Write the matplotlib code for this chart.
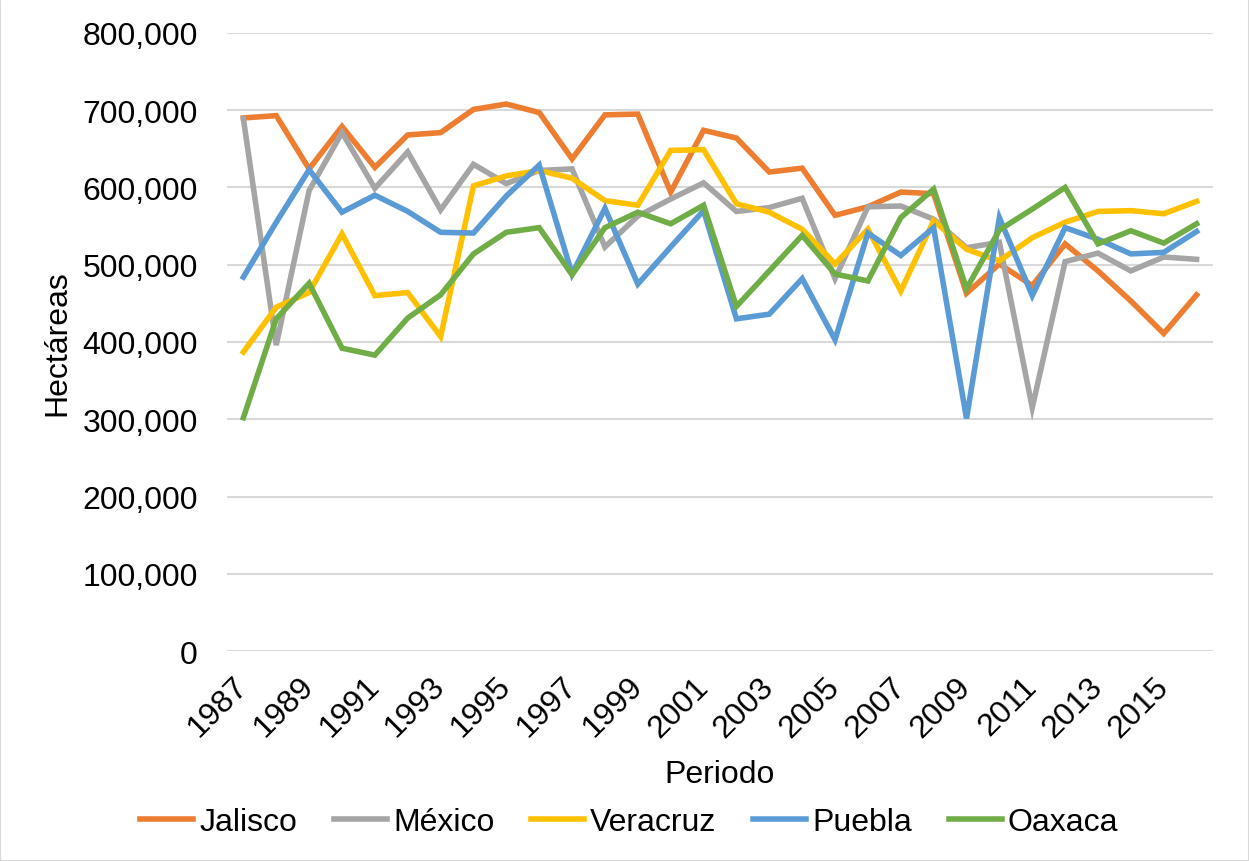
import matplotlib
matplotlib.use('Agg')
import matplotlib.pyplot as plt
from matplotlib.patches import Rectangle
from matplotlib.ticker import FuncFormatter

plt.rcParams['font.family'] = ['Liberation Sans', 'DejaVu Sans']

years = list(range(1987, 2017))

jalisco = [690000, 693000, 624000, 679000, 626000, 668000, 671000, 701000, 708000, 697000,
           637000, 694000, 695000, 594000, 674000, 664000, 620000, 625000, 564000, 575000,
           594000, 592000, 463000, 501000, 473000, 527000, 492000, 453000, 411000, 461000]
mexico = [689000, 396000, 596000, 671000, 599000, 646000, 571000, 630000, 605000, 622000,
          624000, 523000, 563000, 585000, 606000, 569000, 574000, 586000, 482000, 575000,
          576000, 559000, 522000, 529000, 315000, 504000, 515000, 492000, 510000, 507000]
veracruz = [387000, 445000, 464000, 540000, 460000, 464000, 407000, 602000, 615000, 622000,
            612000, 583000, 577000, 648000, 649000, 579000, 568000, 546000, 501000, 546000,
            466000, 557000, 520000, 505000, 535000, 555000, 569000, 570000, 566000, 582000]
puebla = [484000, 555000, 623000, 568000, 590000, 569000, 542000, 541000, 589000, 629000,
          488000, 573000, 475000, 523000, 570000, 430000, 436000, 482000, 403000, 541000,
          512000, 548000, 301000, 561000, 460000, 548000, 533000, 514000, 516000, 543000]
oaxaca = [302000, 430000, 476000, 392000, 383000, 431000, 461000, 514000, 542000, 548000,
          487000, 548000, 568000, 553000, 577000, 446000, 492000, 538000, 488000, 479000,
          561000, 598000, 469000, 545000, 572000, 600000, 527000, 544000, 528000, 553000]

series = [('Jalisco', jalisco, '#ED7D31'),
          ('México', mexico, '#A5A5A5'),
          ('Veracruz', veracruz, '#FFC000'),
          ('Puebla', puebla, '#5B9BD5'),
          ('Oaxaca', oaxaca, '#70AD47')]

fig = plt.figure(figsize=(12.49, 8.62), dpi=100)
ax = fig.add_axes([0.1817, 0.2436, 0.7895, 0.717])

for name, vals, col in series:
    ax.plot(years, vals, color=col, linewidth=4.0, label=name, solid_joinstyle='miter')

ax.set_xlim(1986.5, 2016.5)
ax.set_ylim(0, 800000)
ax.set_yticks(range(0, 800001, 100000))
ax.yaxis.set_major_formatter(FuncFormatter(lambda v, p: '{:,.0f}'.format(v)))
ax.set_xticks(years[::2])
ax.set_xticklabels([str(y) for y in years[::2]], rotation=45, ha='right',
                   va='center', rotation_mode='anchor')
ax.grid(axis='y', color='#D9D9D9', linewidth=1.5)
ax.set_axisbelow(True)
for s in ax.spines.values():
    s.set_visible(False)
ax.tick_params(axis='both', length=0, labelsize=23)
ax.tick_params(axis='y', pad=21)
ax.tick_params(axis='x', pad=22)

ax.set_xlabel('Periodo', fontsize=23, labelpad=12)
ax.set_ylabel('Hectáreas', fontsize=23, labelpad=7)

ax.legend(loc='upper center', bbox_to_anchor=(0.408, -0.206), ncol=5, frameon=False,
          fontsize=23, handlelength=1.65, handletextpad=0.2, columnspacing=1.15)

fig.patches.append(Rectangle((0, 0), 1, 1, transform=fig.transFigure, fill=False,
                             edgecolor='#D9D9D9', linewidth=1.5))

fig.savefig('out.png', dpi=100)
